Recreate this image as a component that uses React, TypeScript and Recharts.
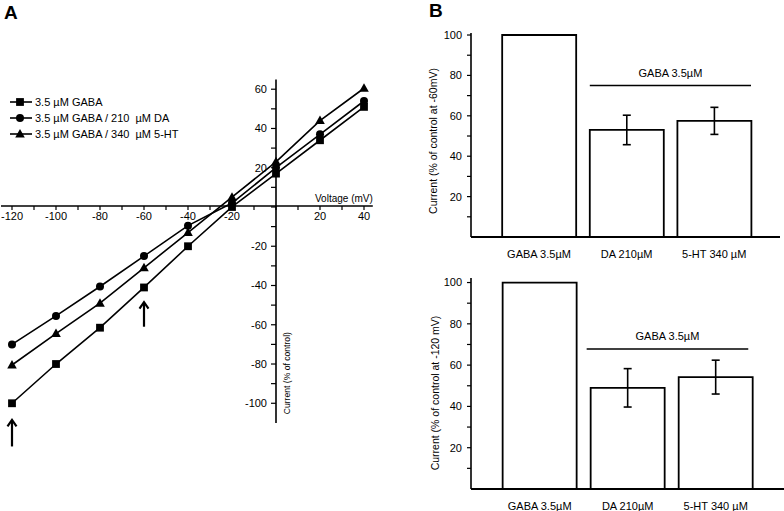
import React from 'react';
import { LineChart, Line, XAxis, YAxis, Legend, ReferenceLine, BarChart, Bar, ErrorBar, Label } from 'recharts';

const FONT = "'Liberation Sans', Arial, sans-serif";

// ---------- Panel A data ----------
const voltages = [-120, -100, -80, -60, -40, -20, 0, 20, 40];
const gabaOnly = [-100, -80, -61.5, -41, -20, 0, 17, 34, 51];
const gabaDA = [-70, -55.5, -40.5, -25, -9.5, 2, 20, 37, 54];
const gaba5HT = [-80.5, -64.5, -49, -31, -13, 5, 23, 44, 60.5];
const seriesNames = ['3.5 µM GABA', '3.5 µM GABA / 210  µM DA', '3.5 µM GABA / 340  µM 5-HT'];
const voltageTicks = [-120, -110, -100, -90, -80, -70, -60, -50, -40, -30, -20, -10, 0, 10, 20, 30, 40];
const currentTicks = [-100, -90, -80, -70, -60, -50, -40, -30, -20, -10, 0, 10, 20, 30, 40, 50, 60];
const arrowVoltages = [-60, -120];
const arrowTail = [-61, -122];
const arrowTip = [-48.5, -108.5];

// ---------- Panel B data ----------
const barCategories = ['GABA 3.5µM', 'DA 210µM', '5-HT 340 µM'];
const at60 = [100, 53, 57.5];
const at60Err = [0, 7.3, 6.7];
const at120 = [100, 49, 54.2];
const at120Err = [0, 9.3, 8.2];
const barTicks = [10, 20, 30, 40, 50, 60, 70, 80, 90, 100];
const bracketLabel = 'GABA 3.5µM';
const bracket60 = { from: 0.58, to: 2.42, level: 75 };
const bracket120 = { from: 0.534, to: 2.37, level: 67.8 };

const ivRows = voltages.map((v, i) => ({ v, gaba: gabaOnly[i], da: gabaDA[i], ht: gaba5HT[i] }));
const rows60 = barCategories.map((name, i) => ({ idx: i, name, value: at60[i], err: at60Err[i] }));
const rows120 = barCategories.map((name, i) => ({ idx: i, name, value: at120[i], err: at120Err[i] }));

const markerKind: Record<string, string> = { gaba: 'square', da: 'circle', ht: 'triangle' };

const Marker = ({ kind, cx, cy }: { kind: string; cx: number; cy: number }) => {
  if (cx == null || cy == null) return <g />;
  if (kind === 'square') return <rect x={cx - 3.9} y={cy - 3.9} width={7.8} height={7.8} fill="#000" />;
  if (kind === 'circle') return <circle cx={cx} cy={cy} r={4} fill="#000" />;
  return <path d={`M${cx},${cy - 5} L${cx + 4.8},${cy + 3.5} L${cx - 4.8},${cy + 3.5} Z`} fill="#000" />;
};

const ArrowShape = (p: any) => {
  const x = p.x1;
  const tipY = Math.min(p.y1, p.y2);
  const tailY = Math.max(p.y1, p.y2);
  return (
    <g>
      <line x1={x} y1={tailY} x2={x} y2={tipY + 1} stroke="#000" strokeWidth={2.2} />
      <polyline points={`${x - 4.5},${tipY + 6.5} ${x},${tipY} ${x + 4.5},${tipY + 6.5}`} fill="none" stroke="#000" strokeWidth={2.2} />
    </g>
  );
};

const RotLabel = ({ viewBox, value, dx, dy, fontSize }: any) => {
  if (!viewBox) return null;
  const cx = viewBox.x + dx;
  const cy = viewBox.y + viewBox.height / 2 + dy;
  return (
    <text x={cx} y={cy} transform={`rotate(-90, ${cx}, ${cy})`} textAnchor="middle" dominantBaseline="central"
      fontSize={fontSize} fill="#000" fontFamily={FONT}>{value}</text>
  );
};

const renderLegend = (props: any) => (
  <div style={{ fontFamily: FONT, fontSize: 11, color: '#000' }}>
    {(props.payload || []).map((e: any) => (
      <div key={String(e.dataKey)} style={{ display: 'flex', alignItems: 'center', height: 16, whiteSpace: 'pre' }}>
        <svg width={26} height={12} style={{ display: 'block' }}>
          <line x1={2} y1={6} x2={24} y2={6} stroke="#000" strokeWidth={1.6} />
          <Marker kind={markerKind[String(e.dataKey)]} cx={12} cy={6} />
        </svg>
        <span style={{ marginLeft: 1 }}>{e.value}</span>
      </div>
    ))}
  </div>
);

const fmtA = (v: number) => (v % 20 === 0 && v !== 0 ? String(v) : '');
const fmtB = (v: number) => (v % 20 === 0 ? String(v) : '');
const tickStyleA = { fontSize: 11, fill: '#000', fontFamily: FONT };
const tickStyleB = { fontSize: 11, fill: '#000', fontFamily: FONT };

const A_DOMAIN_X: [number, number] = [-125, 44];
const A_DOMAIN_Y: [number, number] = [-110, 65];
const A_MARGIN = { top: 79.4, bottom: 88.1, left: 1, right: 27.2 };

const abs = (left: number, top: number): React.CSSProperties => ({ position: 'absolute', left, top });

function BarPanel({ rows, domainX, domainY, margin, bracket, yLabel, labelDx, labelDy, width, height }: any) {
  return (
    <BarChart width={width} height={height} data={rows} margin={margin}>
      <XAxis type="number" dataKey="idx" domain={domainX} allowDataOverflow ticks={[0, 1, 2]} interval={0}
        tickFormatter={(i: number) => barCategories[i] ?? ''} tickLine={false} height={20} tickMargin={7}
        axisLine={{ stroke: '#000', strokeWidth: 1.8 }} tick={tickStyleB} />
      <YAxis type="number" domain={domainY} allowDataOverflow ticks={barTicks} interval={0} tickFormatter={fmtB}
        width={51} tickSize={4} tickMargin={5} axisLine={{ stroke: '#000', strokeWidth: 1.6 }}
        tickLine={{ stroke: '#000', strokeWidth: 1.2 }} tick={tickStyleB}>
        <Label content={(p: any) => <RotLabel {...p} value={yLabel} dx={labelDx} dy={labelDy} fontSize={10.5} />} />
      </YAxis>
      <Bar dataKey="value" fill="#fff" stroke="#000" strokeWidth={1.8} barSize={74} isAnimationActive={false}>
        <ErrorBar dataKey="err" width={4} stroke="#000" strokeWidth={1.6} direction="y" />
      </Bar>
      <ReferenceLine segment={[{ x: bracket.from, y: bracket.level }, { x: bracket.to, y: bracket.level }]}
        stroke="#000" strokeWidth={1.6} ifOverflow="visible"
        label={{ value: bracketLabel, position: 'top', offset: 9, fill: '#000', fontSize: 11, fontFamily: FONT }} />
    </BarChart>
  );
}

export default function App() {
  return (
    <div style={{ position: 'absolute', left: 0, top: 0, width: 784, height: 511, background: '#fff', fontFamily: FONT, overflow: 'hidden' }}>
      {/* Panel A: curves */}
      <div style={abs(0, 0)}>
        <LineChart width={400} height={511} data={ivRows} margin={A_MARGIN}>
          <XAxis hide type="number" dataKey="v" domain={A_DOMAIN_X} allowDataOverflow />
          <YAxis hide type="number" domain={A_DOMAIN_Y} allowDataOverflow />
          <Legend verticalAlign="top" align="left" layout="horizontal" content={renderLegend}
            wrapperStyle={{ left: 8, top: 94, width: 'auto', height: 0, overflow: 'visible' }} />
          {arrowVoltages.map((v, i) => (
            <ReferenceLine key={'arr' + i} segment={[{ x: v, y: arrowTail[i] }, { x: v, y: arrowTip[i] }]}
              ifOverflow="visible" shape={ArrowShape} />
          ))}
          <Line dataKey="gaba" name={seriesNames[0]} stroke="#000" strokeWidth={1.6} isAnimationActive={false}
            dot={(p: any) => <Marker key={'s' + p.index} kind="square" cx={p.cx} cy={p.cy} />} activeDot={false} />
          <Line dataKey="da" name={seriesNames[1]} stroke="#000" strokeWidth={1.6} isAnimationActive={false}
            dot={(p: any) => <Marker key={'c' + p.index} kind="circle" cx={p.cx} cy={p.cy} />} activeDot={false} />
          <Line dataKey="ht" name={seriesNames[2]} stroke="#000" strokeWidth={1.6} isAnimationActive={false}
            dot={(p: any) => <Marker key={'t' + p.index} kind="triangle" cx={p.cx} cy={p.cy} />} activeDot={false} />
        </LineChart>
      </div>
      {/* Panel A: horizontal axis through zero */}
      <div style={{ ...abs(0, 0), pointerEvents: 'none' }}>
        <LineChart width={400} height={511} data={ivRows} margin={{ top: 79.4, bottom: 275, left: A_MARGIN.left, right: A_MARGIN.right }}>
          <XAxis type="number" dataKey="v" domain={A_DOMAIN_X} allowDataOverflow ticks={voltageTicks} interval={0}
            tickFormatter={fmtA} tickSize={4} tickMargin={2} height={30} axisLine={{ stroke: '#000', strokeWidth: 1.6 }}
            tickLine={{ stroke: '#000', strokeWidth: 1.2 }} tick={tickStyleA}>
            <Label content={(p: any) => p.viewBox ? (
              <text x={p.viewBox.x + p.viewBox.width} y={p.viewBox.y - 4} textAnchor="end" fontSize={10} fill="#000" fontFamily={FONT}>Voltage (mV)</text>
            ) : null} />
          </XAxis>
          <YAxis hide type="number" domain={A_DOMAIN_Y} allowDataOverflow />
        </LineChart>
      </div>
      {/* Panel A: vertical axis through zero */}
      <div style={{ ...abs(0, 0), pointerEvents: 'none' }}>
        <LineChart width={400} height={511} data={ivRows} margin={{ top: A_MARGIN.top, bottom: A_MARGIN.bottom, left: 246, right: 10 }}>
          <XAxis hide type="number" dataKey="v" domain={A_DOMAIN_X} allowDataOverflow />
          <YAxis type="number" domain={A_DOMAIN_Y} allowDataOverflow ticks={currentTicks} interval={0} tickFormatter={fmtA}
            width={30} tickSize={5} tickMargin={4} axisLine={{ stroke: '#000', strokeWidth: 1.6 }}
            tickLine={{ stroke: '#000', strokeWidth: 1.2 }} tick={tickStyleA}>
            <Label content={(p: any) => <RotLabel {...p} value="Current (% of control)" dx={41.5} dy={122} fontSize={8.6} />} />
          </YAxis>
        </LineChart>
      </div>
      {/* Panel B top */}
      <div style={abs(400, 0)}>
        <BarPanel rows={rows60} width={384} height={264} domainX={[-0.776, 2.751]} domainY={[0, 101]}
          margin={{ top: 33, right: 4, bottom: 7, left: 20 }} bracket={bracket60}
          yLabel="Current (% of control  at -60mV)" labelDx={13} labelDy={6} />
      </div>
      {/* Panel B bottom */}
      <div style={abs(400, 264)}>
        <BarPanel rows={rows120} width={384} height={247} domainX={[-0.78, 2.776]} domainY={[0, 102.2]}
          margin={{ top: 14, right: 0, bottom: 2, left: 20 }} bracket={bracket120}
          yLabel="Current  (% of control  at -120  mV)" labelDx={15} labelDy={9.5} />
      </div>
      {/* Panel letters */}
      <svg width={784} height={511} style={{ position: 'absolute', left: 0, top: 0, pointerEvents: 'none' }}>
        <text x={4} y={19} fontSize={19} fontWeight="bold" fill="#000" fontFamily={FONT}>A</text>
        <text x={429} y={17} fontSize={19} fontWeight="bold" fill="#000" fontFamily={FONT}>B</text>
      </svg>
    </div>
  );
}
